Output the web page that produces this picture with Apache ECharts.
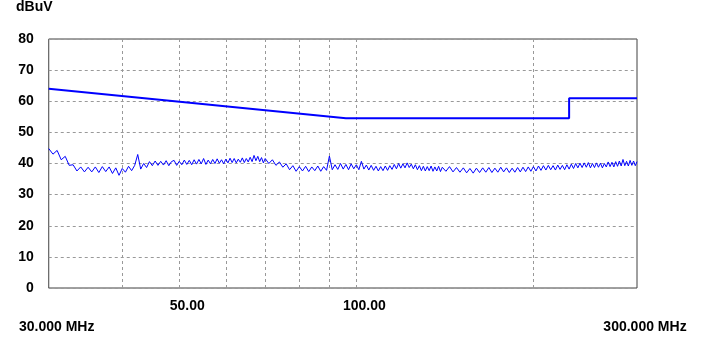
<!DOCTYPE html>
<html lang="en">
<head>
<meta charset="UTF-8">
<title></title>
<style>html,body{margin:0;padding:0;background:#fff;}</style>
</head>
<body>
<div id="emi" style="width:703px;height:347px;"></div>
<script src="https://cdn.jsdelivr.net/npm/echarts@6/dist/echarts.min.js"></script>
<script>
// scan frequencies (MHz) and measured level (dBuV)
var noiseFreq = [
  30, 30.5, 31, 31.5, 32, 32.5, 33, 33.5, 34, 34.5,
  35, 35.5, 36, 36.5, 37, 37.5, 38, 38.5, 39, 39.5,
  40, 40.5, 41, 41.5, 42, 42.5, 43, 43.5, 44, 44.5,
  45, 45.5, 46, 46.5, 47, 47.5, 48, 48.5, 49, 49.5,
  50, 50.5, 51, 51.5, 52, 52.5, 53, 53.5, 54, 54.5,
  55, 55.5, 56, 56.5, 57, 57.5, 58, 58.5, 59, 59.5,
  60, 60.5, 61, 61.5, 62, 62.5, 63, 63.5, 64, 64.5,
  65, 65.5, 66, 66.5, 67, 67.5, 68, 68.5, 69, 69.5,
  70,
  71, 72, 73, 74, 75, 76, 77, 78, 79, 80,
  81, 82, 83, 84, 85, 86, 87, 88, 89, 90,
  91, 92, 93, 94, 95, 96, 97, 98, 99, 100,
  101, 102, 103, 104, 105, 106, 107, 108, 109, 110,
  111, 112, 113, 114, 115, 116, 117, 118, 119, 120,
  121, 122, 123, 124, 125, 126, 127, 128, 129, 130,
  131, 132, 133, 134, 135, 136, 137, 138, 139, 140,
  142, 144, 146, 148, 150, 152, 154, 156, 158, 160,
  162, 164, 166, 168, 170, 172, 174, 176, 178, 180,
  182, 184, 186, 188, 190, 192, 194, 196, 198, 200,
  202, 204, 206, 208, 210, 212, 214, 216, 218, 220,
  222, 224, 226, 228, 230, 232, 234, 236, 238, 240,
  242, 244, 246, 248, 250, 252, 254, 256, 258, 260,
  262, 264, 266, 268, 270, 272, 274, 276, 278, 280,
  282, 284, 286, 288, 290, 292, 294, 296, 298, 300
];
var noiseLevel = [
  44.8, 43.0, 44.2, 41.2, 42.3, 39.4, 39.6, 37.6, 38.9, 37.3,
  38.8, 37.3, 38.9, 37.1, 39.0, 37.4, 38.9, 36.8, 38.6, 36.2,
  38.4, 37.2, 39.1, 37.7, 39.4, 42.9, 38.2, 40.0, 38.7, 40.6,
  39.3, 40.8, 39.4, 40.7, 39.5, 40.9, 39.3, 40.6, 41.0, 39.4,
  40.7, 39.6, 41.1, 39.7, 41.0, 39.6, 41.2, 39.8, 41.3, 39.9,
  41.6, 39.7, 41.1, 39.9, 41.3, 40.0, 41.5, 40.1, 41.2, 39.9,
  41.4, 40.2, 41.7, 40.3, 41.6, 40.2, 41.4, 40.4, 41.8, 40.3,
  41.6, 40.5, 42.0, 40.6, 42.6, 40.9, 42.3, 40.6, 41.9, 40.2,
  41.6,
  40.0, 41.2, 39.4, 40.5, 38.8, 39.9, 38.0, 39.3, 37.5, 39.0,
  37.6, 39.1, 37.4, 38.9, 37.7, 39.2, 37.5, 39.0, 37.8, 42.4,
  38.0, 39.6, 38.1, 40.0, 38.2, 39.7, 38.0, 39.9, 38.3, 39.6,
  38.0, 40.7, 38.2, 39.5, 37.9, 39.4, 37.8, 39.1, 37.6, 39.0,
  37.7, 39.2, 37.8, 39.3, 38.1, 39.7, 38.3, 40.0, 38.5, 39.9,
  38.6, 40.2, 38.7, 39.8, 38.3, 39.6, 38.0, 39.3, 37.7, 39.1,
  37.6, 39.0, 37.7, 39.2, 37.5, 38.9, 37.6, 39.1, 37.4, 38.8,
  37.5, 39.0, 37.3, 38.7, 37.2, 38.6, 37.0, 38.4, 36.9, 38.5,
  37.1, 38.6, 37.2, 38.7, 37.1, 38.5, 37.2, 38.8, 37.3, 38.6,
  37.1, 38.5, 37.2, 38.7, 37.3, 38.8, 37.4, 38.9, 37.5, 39.0,
  37.6, 39.2, 37.8, 39.3, 37.9, 39.4, 38.0, 39.3, 37.9, 39.5,
  38.1, 39.4, 38.0, 39.6, 38.2, 39.8, 38.4, 40.0, 38.6, 40.1,
  38.7, 40.2, 38.8, 40.3, 38.6, 40.0, 38.7, 40.2, 38.8, 40.1,
  38.6, 40.0, 38.9, 40.5, 39.0, 40.4, 38.9, 40.6, 39.1, 40.8,
  39.2, 41.3, 39.3, 40.7, 39.2, 41.0, 39.4, 40.8, 39.3, 40.6
];

// limit line
var limitFreq = [30, 96, 230, 230, 300];
var limitLevel = [64, 54.5, 54.5, 61, 61];

// vertical grid and x labels
var gridFreqs = [40, 50, 60, 70, 80, 90, 100, 200];
var labelFreqs = [30, 50, 100, 300];
var labelTexts = ['\n30.000 MHz', '50.00', '100.00', '\n300.000 MHz'];
var unitText = 'dBuV';

var noiseData = [];
for (var i = 0; i < noiseFreq.length; i++) {
  noiseData.push([noiseFreq[i], noiseLevel[i]]);
}
var limitData = [];
for (var j = 0; j < limitFreq.length; j++) {
  limitData.push([limitFreq[j], limitLevel[j]]);
}

var fontFamily = '"Liberation Sans", Arial, sans-serif';

var chart = echarts.init(document.getElementById('emi'));
var option = {
  animation: false,
  title: {
    text: unitText,
    left: 16,
    top: 0,
    padding: 0,
    textStyle: { fontFamily: fontFamily, fontWeight: 'bold', fontSize: 14, color: '#000', lineHeight: 14 }
  },
  grid: {
    left: 47, right: 66, top: 39, bottom: 59,
    show: true,
    borderColor: '#404040',
    borderWidth: 1
  },
  xAxis: {
    type: 'log',
    logBase: 10,
    min: 30,
    max: 300,
    axisLine: { show: false },
    axisTick: { show: false, customValues: gridFreqs },
    splitLine: { show: true, lineStyle: { color: '#999', width: 1, type: [3, 3] } },
    axisLabel: {
      customValues: labelFreqs,
      showMinLabel: true,
      showMaxLabel: true,
      margin: 8,
      lineHeight: 21,
      padding: [0, 0, 0, 16],
      fontFamily: fontFamily,
      fontWeight: 'bold',
      fontSize: 14,
      color: '#000',
      formatter: function (v) {
        var k = labelFreqs.indexOf(Math.round(v));
        return k >= 0 ? labelTexts[k] : '';
      }
    }
  },
  yAxis: {
    type: 'value',
    min: 0,
    max: 80,
    interval: 10,
    axisLine: { show: false },
    axisTick: { show: false },
    splitLine: { show: true, lineStyle: { color: '#999', width: 1, type: [3, 3] } },
    axisLabel: {
      margin: 15,
      padding: [7, 0, 0, 0],
      fontFamily: fontFamily,
      fontWeight: 'bold',
      fontSize: 14,
      color: '#000'
    }
  },
  series: [
    {
      name: 'limit',
      type: 'line',
      data: limitData,
      symbol: 'none',
      lineStyle: { color: '#0000ff', width: 2 },
      z: 3
    },
    {
      name: 'scan',
      type: 'line',
      data: noiseData,
      symbol: 'none',
      lineStyle: { color: '#0000ff', width: 1 },
      z: 2
    }
  ]
};
chart.setOption(option);
</script>
</body>
</html>
